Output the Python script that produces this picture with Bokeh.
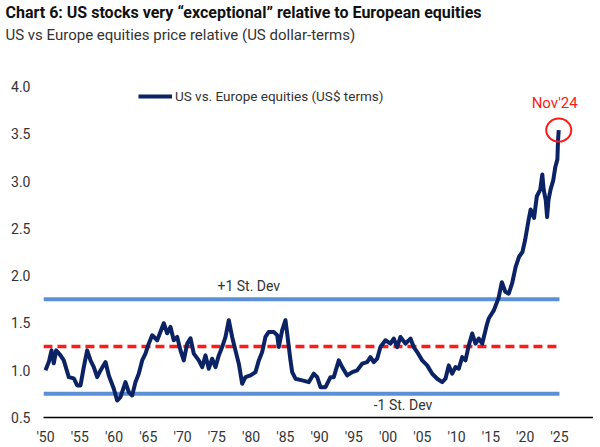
from bokeh.plotting import figure
from bokeh.models import FixedTicker, Legend, LegendItem, Label, Title
from bokeh.embed import file_html
from bokeh.resources import INLINE

# ---------------- data ----------------
title_text = "Chart 6: US stocks very \u201cexceptional\u201d relative to European equities"
subtitle_text = "US vs Europe equities price relative (US dollar-terms)"
series_name = "US vs. Europe equities (US$ terms)"

years = [1950.0, 1950.48, 1950.88, 1951.21, 1951.56, 1952.19, 1952.67, 1953.40, 1954.13, 1954.63,
         1955.11, 1955.59, 1956.08, 1956.57, 1957.05, 1957.54, 1958.03, 1958.76, 1959.24, 1959.97,
         1960.46, 1960.94, 1961.67, 1962.16, 1962.65, 1963.13, 1963.61, 1964.11, 1964.59, 1965.07,
         1965.57, 1966.30, 1967.26, 1967.76, 1968.24, 1968.72, 1969.22, 1969.70, 1970.18, 1970.68,
         1971.16, 1971.64, 1972.37, 1972.87, 1973.35, 1973.83, 1974.32, 1974.81, 1975.29, 1975.78,
         1976.27, 1976.75, 1977.24, 1977.72, 1978.21, 1978.70, 1979.18, 1979.91, 1980.64, 1981.13,
         1981.62, 1982.10, 1982.58, 1983.31, 1983.81, 1984.04, 1984.54, 1985.02, 1985.27, 1985.75,
         1986.00, 1986.48, 1987.46, 1988.42, 1989.15, 1989.65, 1990.13, 1990.86, 1991.59, 1992.07,
         1992.80, 1993.30, 1994.03, 1994.76, 1995.48, 1996.21, 1996.94, 1997.42, 1997.91, 1998.40,
         1998.88, 1999.61, 2000.34, 2000.82, 2001.32, 2001.80, 2002.53, 2003.26, 2003.74, 2004.24,
         2004.97, 2005.70, 2006.43, 2007.16, 2007.89, 2008.37, 2008.85, 2009.35, 2009.83, 2010.31,
         2010.81, 2011.29, 2011.77, 2012.27, 2012.75, 2013.23, 2013.73, 2014.45,
         2014.7, 2015.4, 2016.1, 2016.6, 2017.1, 2017.6, 2018.1, 2018.6, 2019.1, 2019.6,
         2020.0, 2020.5, 2020.8, 2021.3, 2021.7, 2022.2, 2022.5, 2022.7, 2023.0, 2023.2,
         2023.4, 2023.7, 2024.1, 2024.4, 2024.7, 2024.8, 2024.9]

ratio = [1.00, 1.086, 1.21, 1.073, 1.21, 1.157, 1.104, 0.927, 0.914, 0.839,
         0.839, 1.033, 1.21, 1.104, 1.033, 0.927, 0.998, 1.086, 0.945, 0.804,
         0.680, 0.715, 0.874, 0.768, 0.733, 0.874, 0.963, 1.104, 1.175, 1.281,
         1.370, 1.317, 1.497, 1.391, 1.458, 1.317, 1.352, 1.21, 1.104, 1.281,
         1.338, 1.175, 1.104, 1.033, 1.157, 1.016, 1.122, 1.033, 1.157, 1.245,
         1.352, 1.529, 1.352, 1.21, 1.069, 0.857, 0.927, 0.945, 0.980, 1.104,
         1.192, 1.352, 1.405, 1.405, 1.370, 1.245, 1.423, 1.529, 1.388, 1.104,
         0.980, 0.910, 0.892, 0.874, 0.963, 0.927, 0.821, 0.821, 0.927, 0.927,
         1.104, 1.033, 0.945, 0.980, 0.998, 1.069, 1.086, 1.139, 1.086, 1.122,
         1.245, 1.317, 1.281, 1.335, 1.245, 1.352, 1.281, 1.335, 1.245, 1.192,
         1.104, 1.051, 0.963, 0.910, 0.874, 0.910, 1.051, 0.963, 1.033, 1.016,
         1.139, 1.104, 1.263, 1.388, 1.281, 1.335, 1.281, 1.494,
         1.55, 1.63, 1.76, 1.93, 1.83, 1.81, 1.92, 2.09, 2.20, 2.25,
         2.38, 2.59, 2.70, 2.61, 2.84, 2.91, 3.07, 2.91, 2.80, 2.62,
         2.80, 2.91, 3.01, 3.15, 3.23, 3.44, 3.54]

mean_level = 1.25
sd_plus = 1.75
sd_minus = 0.75
sd_plus_label = "+1 St. Dev"
sd_minus_label = "-1 St. Dev"
last_label = "Nov'24"

y_ticks = [0.5, 1.0, 1.5, 2.0, 2.5, 3.0, 3.5, 4.0]
y_tick_labels = ["0.5", "1.0", "1.5", "2.0", "2.5", "3.0", "3.5", "4.0"]
x_ticks = [1950, 1955, 1960, 1965, 1970, 1975, 1980, 1985, 1990, 1995, 2000, 2005, 2010, 2015, 2020, 2025]
x_tick_labels = ["'50", "'55", "'60", "'65", "'70", "'75", "'80", "'85", "'90", "'95",
                 "'00", "'05", "'10", "'15", "'20", "'25"]

# ---------------- layout / style ----------------
FONT = "Roboto"
NAVY = "#0b2265"
BLUE = "#5b8fd6"
RED = "#ff1a1a"
TXT = "#333333"

band_x = [1949.7, 2025.0]
X_START, X_END = 1949.71, 2029.97
Y_TOP = 0.5 + 371 / 94.3

p = figure(width=593, height=447, x_range=(X_START, X_END), y_range=(0.5, Y_TOP),
           output_backend="svg", toolbar_location=None,
           min_border_left=43, min_border_right=0, min_border_bottom=30, min_border_top=0)
p.outline_line_color = None
p.xgrid.visible = False
p.ygrid.visible = False

# titles (subtitle first = nearest frame)
sub = Title(text=subtitle_text, align="left", text_font=FONT, text_font_size="15px",
            text_font_style="normal", text_color=TXT, offset=-38, standoff=4)
ttl = Title(text=title_text, align="left", text_font=FONT, text_font_size="16px",
            text_font_style="bold", text_color="#111111", offset=-38, standoff=0)
p.add_layout(sub, "above")
p.add_layout(ttl, "above")

# reference lines
p.line(band_x, [sd_plus, sd_plus], line_color=BLUE, line_width=4)
p.line(band_x, [sd_minus, sd_minus], line_color=BLUE, line_width=4)
p.line(band_x, [mean_level, mean_level], line_color=RED, line_width=3.5, line_dash="9 5")

# series
r = p.line(years, ratio, line_color=NAVY, line_width=4, line_join="round")

# highlight circle on last point
p.ellipse(x=[years[-1]], y=[ratio[-1]], width=25, height=23,
          width_units="screen", height_units="screen",
          fill_alpha=0, line_color=RED, line_width=2)

p.add_layout(Label(x=years[-1] - 0.6, y=3.83, text=last_label, text_align="center",
                   text_baseline="middle", text_font=FONT, text_font_size="15px",
                   text_color=RED))
p.add_layout(Label(x=1975.1, y=sd_plus + 0.14, text=sd_plus_label, text_align="left",
                   text_baseline="middle", text_font=FONT, text_font_size="14px",
                   text_color=TXT))
p.add_layout(Label(x=1997.9, y=sd_minus - 0.115, text=sd_minus_label, text_align="left",
                   text_baseline="middle", text_font=FONT, text_font_size="14px",
                   text_color=TXT))

legend = Legend(items=[LegendItem(label=series_name, renderers=[r])],
                location=(95, 313), margin=0, padding=0, spacing=0,
                glyph_width=34, glyph_height=16, label_standoff=3,
                border_line_alpha=0, background_fill_alpha=0,
                label_text_font=FONT, label_text_font_size="13.5px", label_text_color=TXT)
p.add_layout(legend, "center")

# axes
p.yaxis.ticker = FixedTicker(ticks=y_ticks)
p.yaxis.major_label_overrides = dict(zip(y_ticks, y_tick_labels))
p.yaxis.axis_line_color = None
p.yaxis.major_tick_line_color = None
p.yaxis.minor_tick_line_color = None
p.yaxis.major_tick_out = 0
p.yaxis.major_tick_in = 0
p.yaxis.major_label_standoff = 13
p.yaxis.major_label_text_font = FONT
p.yaxis.major_label_text_font_size = "14px"
p.yaxis.major_label_text_color = TXT

p.xaxis.ticker = FixedTicker(ticks=x_ticks)
p.xaxis.major_label_overrides = dict(zip(x_ticks, x_tick_labels))
p.xaxis.axis_line_color = "black"
p.xaxis.axis_line_width = 1.5
p.xaxis.major_tick_line_color = None
p.xaxis.minor_tick_line_color = None
p.xaxis.major_tick_out = 0
p.xaxis.major_tick_in = 0
p.xaxis.major_label_standoff = 11
p.xaxis.major_label_text_font = FONT
p.xaxis.major_label_text_font_size = "14px"
p.xaxis.major_label_text_color = TXT

open("out.html", "w").write(file_html(p, INLINE))
